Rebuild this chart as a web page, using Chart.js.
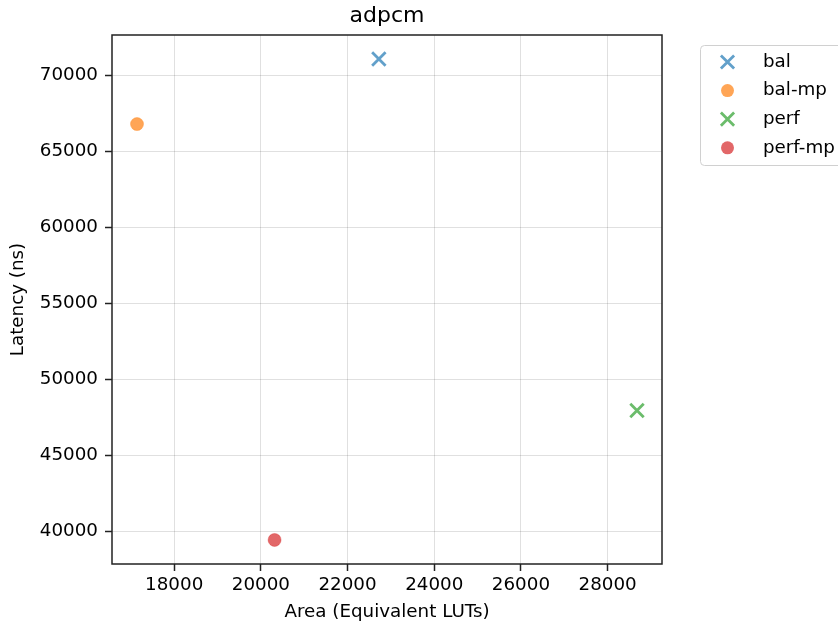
<!DOCTYPE html>
<html>
<head>
<meta charset="utf-8">
<script src="https://cdn.jsdelivr.net/npm/chart.js@4"></script>
<style>
    html, body { margin: 0; padding: 0; background: #fff; }
    #wrap { width: 838px; height: 624px; }
</style>
</head>
<body>
<div id="wrap"><canvas id="scatter"></canvas></div>
<script>
// Data
const seriesNames = ['bal', 'bal-mp', 'perf', 'perf-mp'];
const areaLUTs = [22722, 17142, 28678, 20316];
const latencyNs = [71079, 66803, 47960, 39447];
const seriesColors = [
    'rgba(31, 119, 180, 0.7)',
    'rgba(255, 127, 14, 0.7)',
    'rgba(44, 160, 44, 0.7)',
    'rgba(214, 39, 40, 0.7)'
];
const seriesMarkers = ['crossRot', 'circle', 'crossRot', 'circle'];
const xTicks = [18000, 20000, 22000, 24000, 26000, 28000];
const yTicks = [40000, 45000, 50000, 55000, 60000, 65000, 70000];

const FONT = "'DejaVu Sans', sans-serif";
const FS = 18.3;
Chart.defaults.font.family = FONT;
Chart.defaults.color = '#000';

// matplotlib style 5% margins
function paddedRange(values) {
    const lo = Math.min(...values), hi = Math.max(...values);
    const m = (hi - lo) * 0.05;
    return [lo - m, hi + m];
}
const [xMin, xMax] = paddedRange(areaLUTs);
const [yMin, yMax] = paddedRange(latencyNs);

const datasets = seriesNames.map((name, i) => ({
    label: name,
    data: [{ x: areaLUTs[i], y: latencyNs[i] }],
    pointStyle: seriesMarkers[i],
    pointRadius: seriesMarkers[i] === 'circle' ? 6.5 : 9.5,
    pointHoverRadius: seriesMarkers[i] === 'circle' ? 6.5 : 9.5,
    pointBorderWidth: seriesMarkers[i] === 'circle' ? 0.5 : 2.8,
    backgroundColor: seriesColors[i],
    borderColor: seriesColors[i]
}));

// title, frame and legend box drawn the matplotlib way
const framePlugin = {
    id: 'frame',
    afterDraw(chart) {
        const ctx = chart.ctx;
        const a = chart.chartArea;
        ctx.save();
        ctx.strokeStyle = '#222';
        ctx.lineWidth = 1.5;
        ctx.strokeRect(a.left, a.top, a.right - a.left, a.bottom - a.top);

        ctx.font = '22px ' + FONT;
        ctx.fillStyle = '#000';
        ctx.textAlign = 'center';
        ctx.textBaseline = 'middle';
        ctx.fillText('adpcm', (a.left + a.right) / 2, 16);

        // legend
        const bx = 700, by = 45, bw = 160, bh = 120, r = 4;
        ctx.fillStyle = 'rgba(255,255,255,0.8)';
        ctx.strokeStyle = '#d0d0d0';
        ctx.lineWidth = 1;
        ctx.beginPath();
        ctx.roundRect(bx + 0.5, by + 0.5, bw, bh, r);
        ctx.fill();
        ctx.stroke();

        ctx.font = FS + 'px ' + FONT;
        ctx.textAlign = 'left';
        seriesNames.forEach((name, i) => {
            const cy = 62 + i * 28.6;
            const cx = 727.5;
            ctx.fillStyle = seriesColors[i];
            ctx.strokeStyle = seriesColors[i];
            if (seriesMarkers[i] === 'circle') {
                ctx.beginPath();
                ctx.arc(cx, cy, 6.5, 0, Math.PI * 2);
                ctx.fill();
            } else {
                const d = 6.6;
                ctx.lineWidth = 2.8;
                ctx.beginPath();
                ctx.moveTo(cx - d, cy - d); ctx.lineTo(cx + d, cy + d);
                ctx.moveTo(cx - d, cy + d); ctx.lineTo(cx + d, cy - d);
                ctx.stroke();
            }
            ctx.fillStyle = '#000';
            ctx.fillText(name, 763, cy);
        });
        ctx.restore();
    }
};

new Chart(document.getElementById('scatter').getContext('2d'), {
    type: 'scatter',
    data: { datasets: datasets },
    plugins: [framePlugin],
    options: {
        responsive: true,
        maintainAspectRatio: false,
        animation: false,
        layout: { padding: { top: 35, right: 176, left: 0, bottom: 0 } },
        plugins: {
            legend: { display: false },
            title: { display: false },
            tooltip: { enabled: false }
        },
        scales: {
            x: {
                type: 'linear',
                min: xMin,
                max: xMax,
                afterBuildTicks: (scale) => { scale.ticks = xTicks.map(v => ({ value: v })); },
                afterFit: (scale) => { scale.height = 60; },
                grid: { color: 'rgba(0,0,0,0.12)', tickColor: '#222', tickLength: 7, tickWidth: 1.5 },
                border: { display: false },
                ticks: { font: { size: FS }, padding: 3, maxRotation: 0, callback: v => String(v) },
                title: { display: true, text: 'Area (Equivalent LUTs)', font: { size: FS }, padding: { top: 0, bottom: 1 } }
            },
            y: {
                type: 'linear',
                min: yMin,
                max: yMax,
                afterBuildTicks: (scale) => { scale.ticks = yTicks.map(v => ({ value: v })); },
                afterFit: (scale) => { scale.width = 112; },
                grid: { color: 'rgba(0,0,0,0.12)', tickColor: '#222', tickLength: 7, tickWidth: 1.5 },
                border: { display: false },
                ticks: { font: { size: FS }, padding: 7, callback: v => String(v) },
                title: { display: true, text: 'Latency (ns)', font: { size: FS }, padding: { top: 7, bottom: 0 } }
            }
        }
    }
});
</script>
</body>
</html>
